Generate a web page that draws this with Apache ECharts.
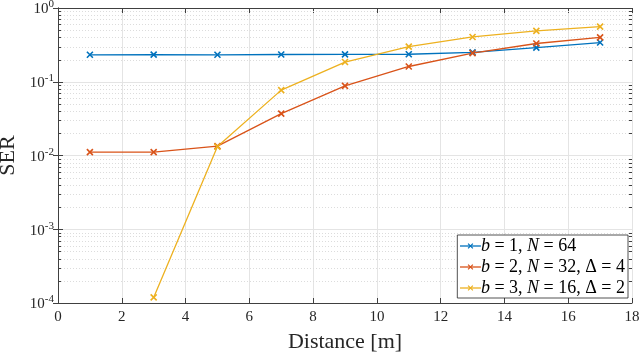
<!DOCTYPE html>
<html>
<head>
	<meta charset="utf-8">
	<title>SER vs distance</title>
	<script src="https://cdn.jsdelivr.net/npm/echarts@6/dist/echarts.min.js"></script>
	<style>
		html,body{margin:0;padding:0;background:#fff;}
		#main{width:640px;height:352px;}
	</style>
</head>
<body>
	<div id="main"></div>
</body>
<script type="text/javascript">
// 横轴距离
var distance=[1,3,5,7,9,11,13,15,17]
// 三条曲线
var serB1=[0.232,0.233,0.232,0.234,0.235,0.236,0.25,0.29,0.34]
var serB2=[0.0111,0.0111,0.0134,0.037,0.088,0.161,0.244,0.33,0.40]
var serB3=[null,0.000119,0.0132,0.077,0.185,0.30,0.405,0.49,0.56]
var seriesNames=['b1','b2','b3']
var legendText={
    b1:'{i|b} = 1, {i|N} = 64',
    b2:'{i|b} = 2, {i|N} = 32, Δ = 4',
    b3:'{i|b} = 3, {i|N} = 16, Δ = 2'
}
var xTicks=[0,2,4,6,8,10,12,14,16,18]
var yDecades=[-4,-3,-2,-1,0]

var colors=['#0072BD','#D95319','#EDB120']
var font='Liberation Serif'
var axisColor='#404040'
var cross='path://M0,0L10,10M10,0L0,10'

function pairs(ys){
    var out=[]
    for(var i=0;i<distance.length;i++){
        out.push([distance[i],ys[i]==null?'-':ys[i]])
    }
    return out
}

// 次网格线(2..9 * 10^k)
var minorVals=[]
for(var k=0;k<yDecades.length-1;k++){
    for(var m=2;m<=9;m++){
        minorVals.push([0,m*Math.pow(10,yDecades[k])])
    }
}

function lineSeries(name,ys,idx){
    return {
        name:name,
        type:'line',
        data:pairs(ys),
        symbol:cross,
        symbolSize:6,
        showSymbol:true,
        lineStyle:{color:colors[idx],width:1.3},
        itemStyle:{color:'rgba(0,0,0,0)',borderColor:colors[idx],borderWidth:1.6},
        emphasis:{disabled:true},
        z:3
    }
}

var option={
    animation:false,
    backgroundColor:'#fff',
    grid:{left:58,right:8,top:8,bottom:49,show:false,outerBoundsMode:'none',containLabel:false},
    legend:{
        data:seriesNames.map(function(n,i){
            return {name:n,itemStyle:{borderWidth:1.2},lineStyle:{width:1.3}}
        }),
        orient:'vertical',
        right:12,
        bottom:54,
        backgroundColor:'#fff',
        borderColor:'#262626',
        borderWidth:0.8,
        padding:[2,3,1,2],
        itemGap:3,
        itemWidth:21,
        itemHeight:6,
        formatter:function(name){return legendText[name]},
        textStyle:{
            fontFamily:font,fontSize:18,color:'#000',padding:[0,0,0,-5],
            rich:{i:{fontFamily:font,fontStyle:'italic',fontSize:18,color:'#000'}}
        }
    },
    xAxis:[{
        type:'value',
        min:0,max:18,interval:2,
        name:'Distance [m]',
        nameLocation:'middle',
        nameGap:28,
        nameTextStyle:{fontFamily:font,fontSize:22,color:'#262626'},
        axisLine:{show:true,lineStyle:{color:axisColor,width:1}},
        axisTick:{show:true,inside:true,length:5,lineStyle:{color:axisColor}},
        axisLabel:{fontFamily:font,fontSize:15,color:'#262626',margin:7},
        splitLine:{show:true,lineStyle:{color:'#e4e4e4',width:1}}
    },{
        type:'value',
        position:'top',
        min:0,max:18,interval:2,
        axisLine:{show:true,lineStyle:{color:axisColor,width:1}},
        axisTick:{show:true,inside:true,length:5,lineStyle:{color:axisColor}},
        axisLabel:{show:false},
        splitLine:{show:false}
    }],
    yAxis:[{
        type:'log',
        logBase:10,
        min:0.0001,max:1,
        name:'SER',
        nameLocation:'middle',
        nameGap:36,
        nameTextStyle:{fontFamily:font,fontSize:22,color:'#262626'},
        axisLine:{show:true,lineStyle:{color:axisColor,width:1}},
        axisTick:{show:true,inside:true,length:5,lineStyle:{color:axisColor}},
        axisLabel:{
            margin:4,
            formatter:function(v){
                var e=Math.round(Math.log(v)/Math.LN10)
                return '{b|10}{s|'+e+'}'
            },
            rich:{
                b:{fontFamily:font,fontSize:15,color:'#262626',verticalAlign:'bottom'},
                s:{fontFamily:font,fontSize:11,color:'#262626',verticalAlign:'top',padding:[0,0,7,0]}
            }
        },
        splitLine:{show:true,lineStyle:{color:'#e4e4e4',width:1}}
    },{
        type:'log',
        logBase:10,
        min:0.0001,max:1,
        position:'right',
        axisLine:{show:true,lineStyle:{color:axisColor,width:1}},
        axisTick:{show:true,inside:true,length:5,lineStyle:{color:axisColor}},
        axisLabel:{show:false},
        splitLine:{show:false}
    }],
    series:[{
        // 次网格和次刻度
        type:'custom',
        silent:true,
        z:1,
        data:minorVals,
        encode:{x:0,y:1},
        renderItem:function(params,api){
            var cs=params.coordSys
            var p=api.coord([0,api.value(1)])
            var y=Math.round(p[1])+0.5
            return {type:'group',children:[
                {type:'line',shape:{x1:cs.x,y1:y,x2:cs.x+cs.width,y2:y},
                 style:{stroke:'#dcdcdc',lineWidth:1,lineDash:[1,2]}},
                {type:'line',shape:{x1:cs.x,y1:y,x2:cs.x+3,y2:y},
                 style:{stroke:axisColor,lineWidth:1}},
                {type:'line',shape:{x1:cs.x+cs.width-3,y1:y,x2:cs.x+cs.width,y2:y},
                 style:{stroke:axisColor,lineWidth:1}}
            ]}
        }
    },
    lineSeries('b1',serB1,0),
    lineSeries('b2',serB2,1),
    lineSeries('b3',serB3,2)]
}

var myChart=echarts.init(document.getElementById('main'))
myChart.setOption(option)
</script>
</html>
